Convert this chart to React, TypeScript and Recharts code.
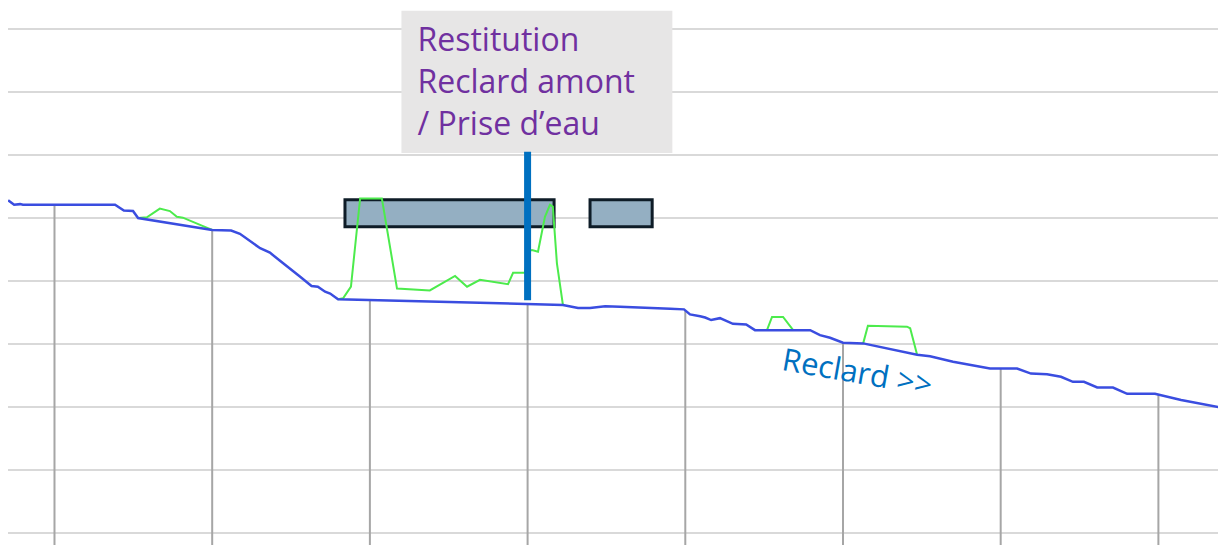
import {
  CartesianGrid,
  Line,
  LineChart,
  ReferenceArea,
  ReferenceDot,
  ReferenceLine,
  XAxis,
  YAxis,
} from 'recharts';

// distance along the river (m) and bed altitude (m)
const profileDist = [
  353, 372, 391, 400, 692, 720, 749, 765, 1000, 1060, 1088, 1152, 1183, 1215, 1278, 1315,
  1335, 1358, 1374, 1399, 2112, 2160, 2198, 2246, 2293, 2452, 2496, 2515, 2547, 2563, 2582,
  2610, 2651, 2693, 2721, 2759, 2896, 2927, 2959, 3000, 3064, 3235, 3276, 3349, 3466, 3552,
  3596, 3647, 3691, 3729, 3764, 3806, 3856, 3901, 3989, 4072, 4190,
];
const profileAlt = [
  1052.8, 1052.1, 1052.2, 1052.1, 1052.1, 1051.2, 1051.1, 1050.0, 1048.1, 1048.0, 1047.5,
  1045.2, 1044.5, 1043.2, 1040.7, 1039.2, 1039.1, 1038.3, 1038.0, 1037.1, 1036.2, 1035.7,
  1035.7, 1036.0, 1035.9, 1035.6, 1035.5, 1034.7, 1034.4, 1034.2, 1033.8, 1034.1, 1033.2,
  1033.1, 1032.2, 1032.2, 1032.2, 1031.4, 1031.0, 1030.2, 1030.1, 1028.3, 1028.05, 1027.2,
  1026.1, 1026.1, 1025.3, 1025.2, 1024.8, 1024.0, 1024.0, 1023.1, 1023.1, 1022.1, 1022.1,
  1021.1, 1020.0,
];

// water surface where it rises above the bed
const water1Dist = [765, 793, 834, 866, 888, 907, 971, 1000];
const water1Alt = [1050.0, 1050.1, 1051.5, 1051.1, 1050.2, 1050.05, 1048.7, 1048.1];
const water2Dist = [
  1399, 1415, 1440, 1453, 1469, 1538, 1586, 1690, 1770, 1808, 1849, 1938, 1954, 1991, 2004,
  2014, 2033, 2055, 2071, 2080, 2093, 2112,
];
const water2Alt = [
  1037.1, 1037.25, 1039.1, 1045.4, 1053.1, 1053.1, 1038.8, 1038.5, 1040.8, 1039.1, 1040.2,
  1039.5, 1041.3, 1041.3, 1044.8, 1044.9, 1044.65, 1050.2, 1052.1, 1051.8, 1042.8, 1036.2,
];
const water3Dist = [2759, 2775, 2810, 2842];
const water3Alt = [1032.2, 1034.3, 1034.3, 1032.2];
const water4Dist = [3064, 3079, 3203, 3213, 3235];
const water4Alt = [1030.1, 1032.9, 1032.75, 1032.5, 1028.3];

const stations = [500, 1000, 1500, 2000, 2500, 3000, 3500, 4000];
const altTicks = [1000, 1010, 1020, 1030, 1040, 1050, 1060, 1070, 1080];

// works (reaches) drawn as boxes
const worksFrom = [1421, 2198];
const worksTo = [2084, 2395];
const worksLow = 1048.6;
const worksHigh = 1052.9;

const restitutionDist = 2000;
const restitutionLines = ['Restitution', 'Reclard amont', '/ Prise d\u2019eau'];
const riverName = 'Reclard >>';

const X_DOMAIN: [number, number] = [352.6, 4189];
const Y_DOMAIN: [number, number] = [998.1, 1084.6];

const toRows = (xs: number[], ys: number[]) => xs.map((d, i) => ({ d, alt: ys[i] }));

const profile = toRows(profileDist, profileAlt);
const waters = [
  toRows(water1Dist, water1Alt),
  toRows(water2Dist, water2Alt),
  toRows(water3Dist, water3Alt),
  toRows(water4Dist, water4Alt),
];

const bedAt = (d: number) => {
  for (let i = 1; i < profileDist.length; i++) {
    if (d <= profileDist[i]) {
      const t = (d - profileDist[i - 1]) / (profileDist[i] - profileDist[i - 1]);
      return profileAlt[i - 1] + t * (profileAlt[i] - profileAlt[i - 1]);
    }
  }
  return profileAlt[profileAlt.length - 1];
};

const CalloutText = (props: any) => {
  const { x, y } = props.viewBox;
  return (
    <text
      x={x + 16}
      y={y + 40}
      fill="#7030a0"
      fontSize={32}
      fontFamily="'Open Sans', sans-serif"
    >
      {restitutionLines.map((line, i) => (
        <tspan key={line} x={x + 16} dy={i === 0 ? 0 : 42}>
          {line}
        </tspan>
      ))}
    </text>
  );
};

const RiverText = (props: any) => {
  const { x, y } = props.viewBox;
  return (
    <text
      x={x}
      y={y}
      fill="#0070c0"
      fontSize={31}
      fontFamily="'Open Sans', sans-serif"
      transform={`rotate(10 ${x} ${y})`}
    >
      {riverName}
    </text>
  );
};

export default function App() {
  return (
    <div style={{ position: 'absolute', left: 0, top: 0, background: '#fff' }}>
      <LineChart width={1218} height={545} margin={{ top: 0, right: 0, bottom: 0, left: 8 }}>
        <XAxis type="number" dataKey="d" domain={X_DOMAIN} allowDataOverflow hide />
        <YAxis type="number" domain={Y_DOMAIN} ticks={altTicks} allowDataOverflow hide />
        <CartesianGrid
          vertical={false}
          horizontalValues={altTicks}
          stroke="#d9d9d9"
          strokeWidth={2}
        />
        {worksFrom.map((x1, i) => (
          <ReferenceArea
            key={x1}
            x1={x1}
            x2={worksTo[i]}
            y1={worksLow}
            y2={worksHigh}
            fill="#94afc2"
            fillOpacity={1}
            stroke="#0e1c27"
            strokeWidth={3}
          />
        ))}
        {stations.map((s) => (
          <ReferenceLine
            key={s}
            segment={[
              { x: s, y: bedAt(s) },
              { x: s, y: Y_DOMAIN[0] },
            ]}
            stroke="#a6a6a6"
            strokeWidth={2}
          />
        ))}
        {waters.map((w, i) => (
          <Line
            key={i}
            data={w}
            dataKey="alt"
            type="linear"
            stroke="#4ceb4c"
            strokeWidth={2}
            dot={false}
            isAnimationActive={false}
          />
        ))}
        <Line
          data={profile}
          dataKey="alt"
          type="linear"
          stroke="#3a4de0"
          strokeWidth={2.5}
          dot={false}
          isAnimationActive={false}
        />
        <ReferenceLine
          segment={[
            { x: restitutionDist, y: bedAt(restitutionDist) + 0.6 },
            { x: restitutionDist, y: 1060.5 },
          ]}
          stroke="#0070c0"
          strokeWidth={7}
        />
        <ReferenceArea
          x1={1600}
          x2={2459}
          y1={1060.3}
          y2={1082.9}
          fill="#e7e6e6"
          fillOpacity={1}
          label={(p: any) => <CalloutText {...p} />}
        />
        <ReferenceDot
          x={2803}
          y={1025.9}
          r={0}
          fill="none"
          stroke="none"
          label={(p: any) => <RiverText {...p} />}
        />
      </LineChart>
    </div>
  );
}
